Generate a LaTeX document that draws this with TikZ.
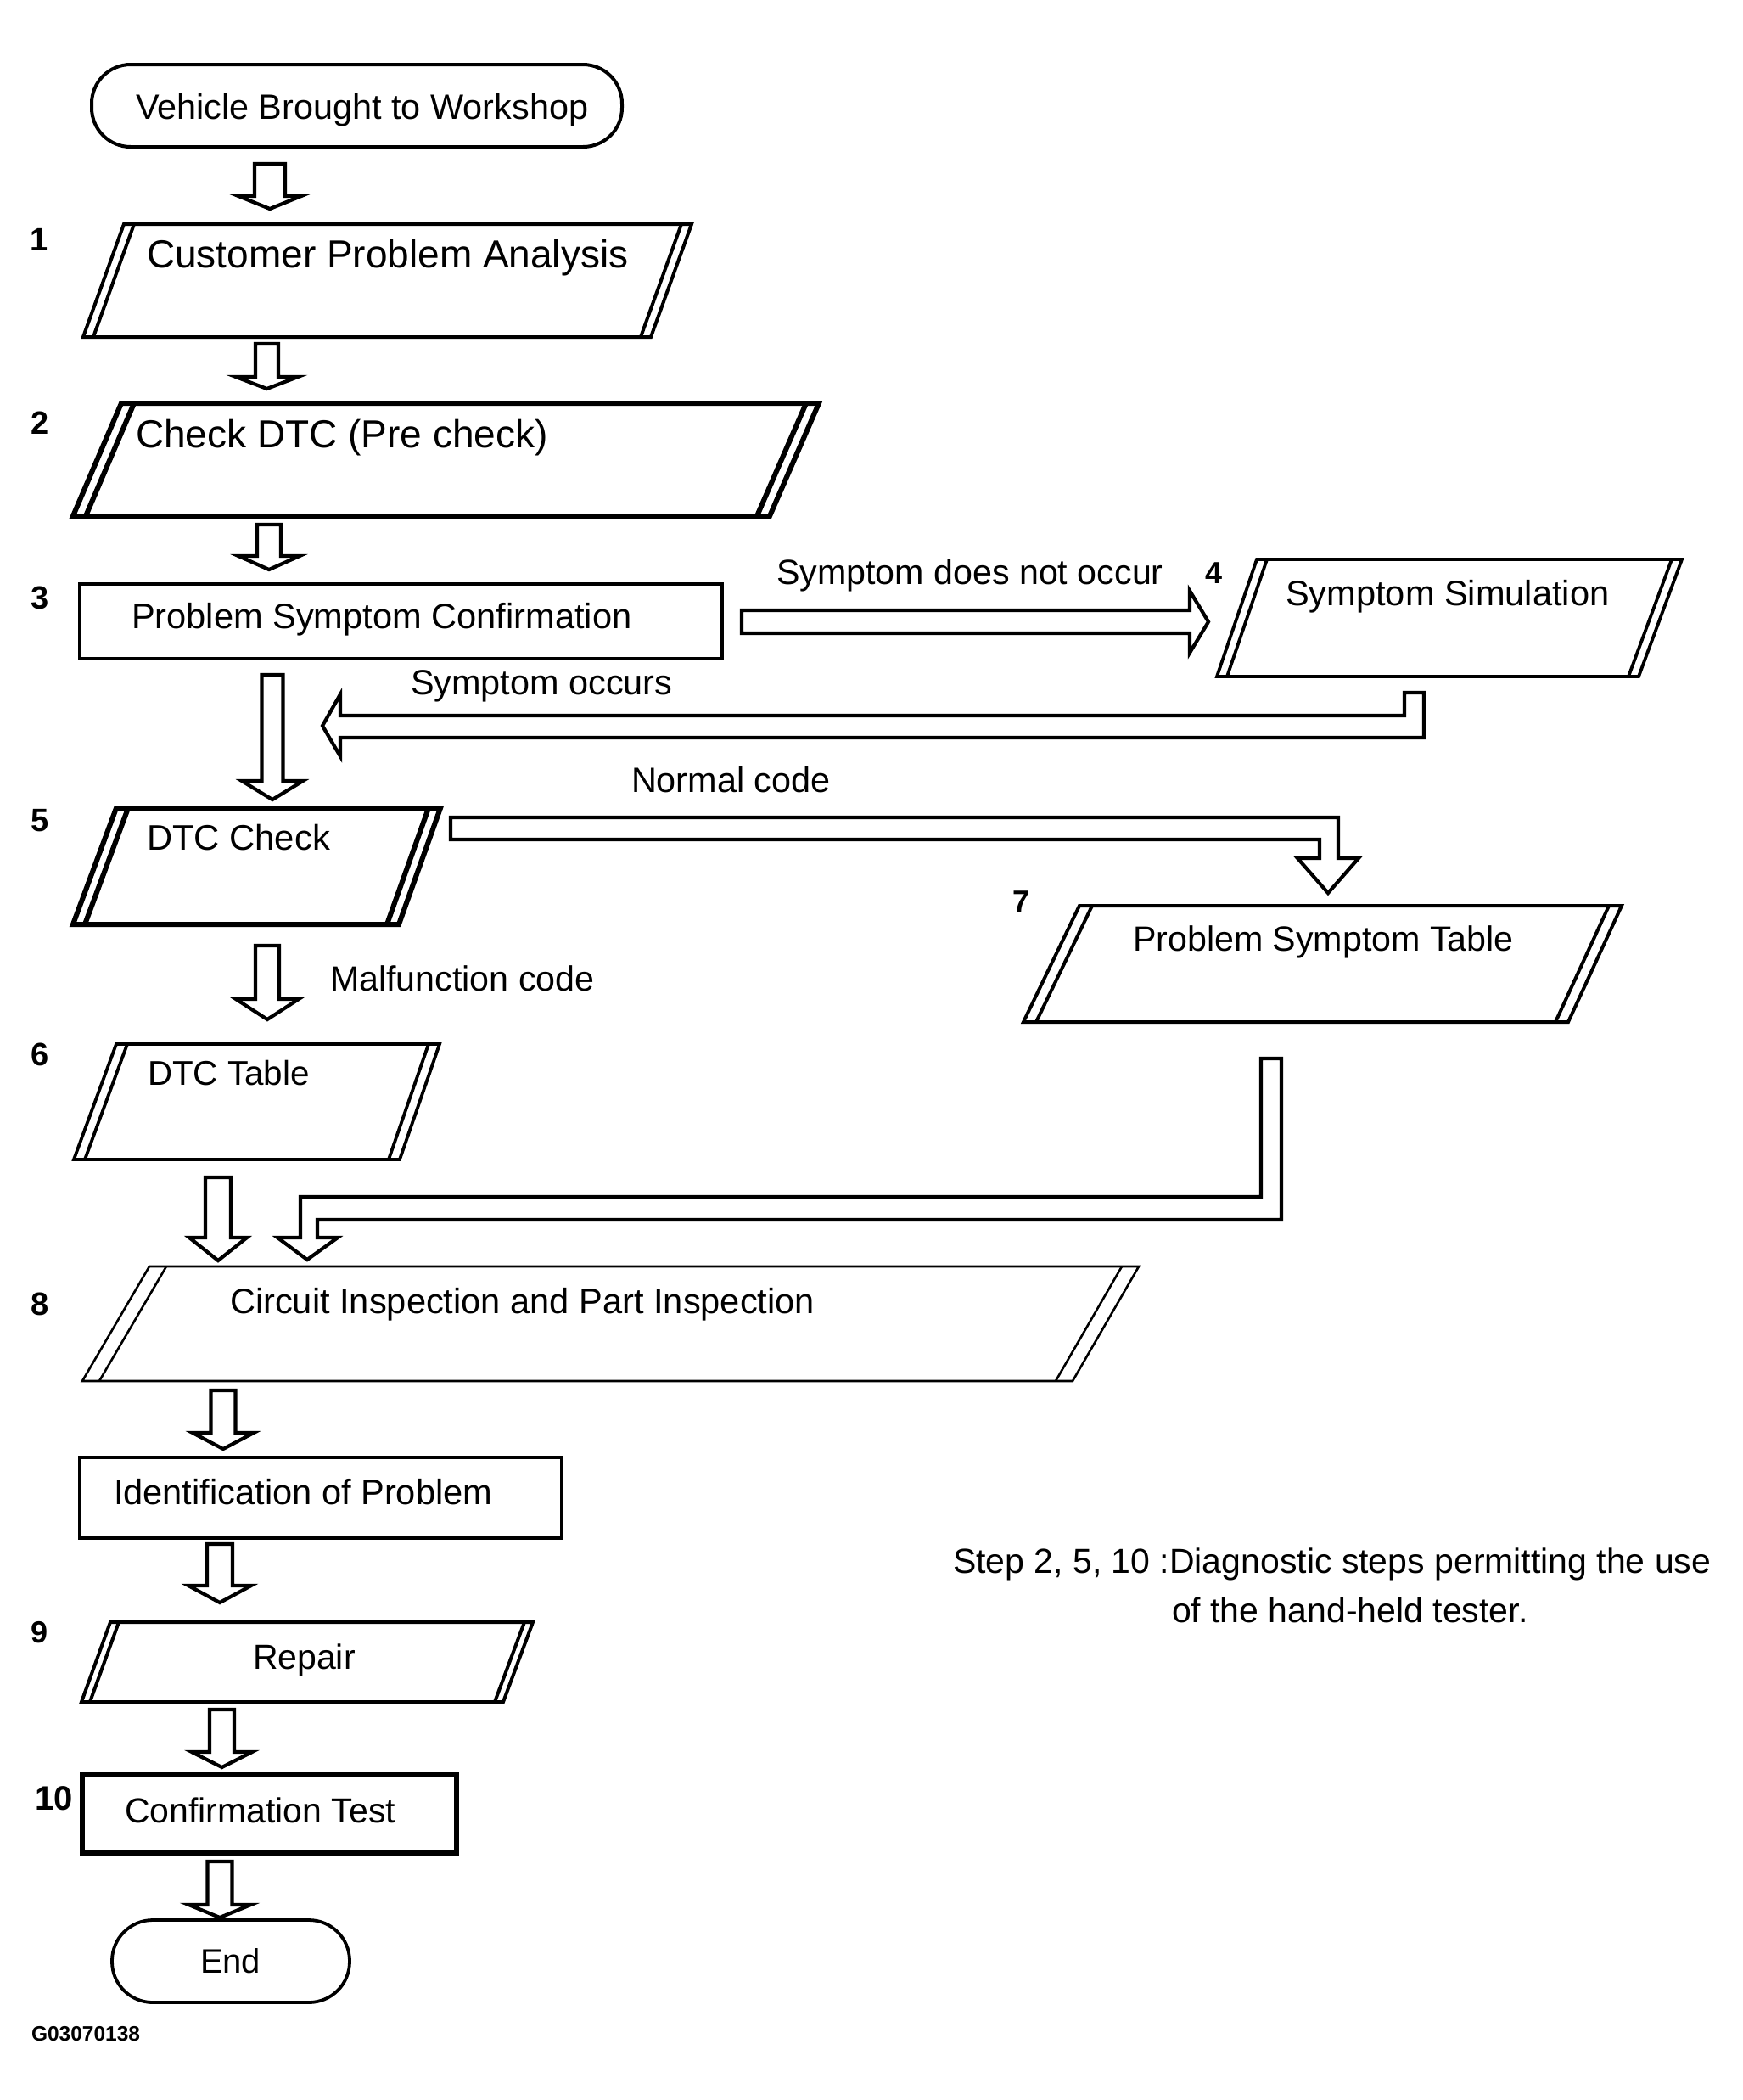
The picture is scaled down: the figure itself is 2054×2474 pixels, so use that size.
\documentclass[tikz,border=0pt]{standalone}
\usepackage{fontspec}
\setmainfont{Liberation Sans}
\usepackage{graphicx}
\newcommand\tx[3]{\scalebox{#2}[1]{\fontsize{#1pt}{#1pt}\selectfont #3}}
\newcommand\dg[2]{{\fontsize{#1pt}{#1pt}\selectfont\bfseries #2}}
% parallelogram with double slanted sides: lw, TL, TR, BL, BR, top, bottom, offset
\newcommand\para[8]{%
  \draw[line width=#1] (#2,#6) -- (#3,#6) -- (#5,#7) -- (#4,#7) -- cycle;
  \draw[line width=#1] (#2+#8,#6) -- (#4+#8,#7);
  \draw[line width=#1] (#3-#8,#6) -- (#5-#8,#7);}
% hollow down arrow: cx, shaft half width, head half width, y top, y head base, y tip
\newcommand\hdown[6]{%
  \draw[arr] (#1-#2,#4) -- (#1+#2,#4) -- (#1+#2,#5) -- (#1+#3,#5) -- (#1,#6)
    -- (#1-#3,#5) -- (#1-#2,#5) -- cycle;}
\begin{document}
\begin{tikzpicture}[x=0.25pt,y=-0.25pt,line join=miter,
  t/.style={inner sep=0pt,outer sep=0pt,anchor=base west},
  num/.style={inner sep=0pt,outer sep=0pt,anchor=base},
  arr/.style={line width=1.05pt}]
\useasboundingbox (0,0) rectangle (2054,2474);

% ---- shapes ----
\draw[line width=1pt,rounded corners=11.5pt] (108,76) rectangle (733,173);
\para{1pt}{146}{815}{98}{767}{264}{397}{12}
\para{1.5pt}{143}{965}{86}{907}{475}{608}{15}
\draw[line width=1pt] (94,688) rectangle (851,776);
\para{0.95pt}{1481}{1982}{1434}{1931}{659}{797}{12}
\para{1.5pt}{137}{519}{86}{470}{952}{1089}{14}
\para{0.95pt}{137}{518}{87}{471}{1230}{1366}{13}
\para{1pt}{1272}{1911}{1206}{1848}{1067}{1204}{15}
\para{0.65pt}{176}{1342}{97}{1264}{1492}{1627}{20}
\draw[line width=1pt] (94,1717) rectangle (662,1812);
\para{1pt}{130}{628}{96}{593}{1911}{2005}{10}
\draw[line width=1.5pt] (97,2090) rectangle (538,2183);
\draw[line width=0.95pt,rounded corners=12pt] (132,2262) rectangle (412,2359);

% ---- hollow down arrows ----
\hdown{318}{18}{37}{193}{231}{246}
\hdown{314.5}{13.5}{36.5}{405}{444}{458}
\hdown{317}{14}{36}{618}{655}{671}
\hdown{321}{12.5}{36}{795}{920}{942}
\hdown{315}{14}{37}{1114}{1177}{1201}
\hdown{257}{15}{34}{1387}{1458}{1485}
\hdown{263}{14.5}{36}{1638}{1688}{1707}
\hdown{259}{15}{37}{1819}{1868}{1888}
\hdown{261.5}{14.5}{35.5}{2014}{2064}{2082}
\hdown{259}{14.5}{36.5}{2193}{2244}{2259}

% ---- other hollow arrows ----
% Symptom does not occur
\draw[arr] (874,719) -- (1402,719) -- (1402,696) -- (1424,732.5) -- (1402,769)
  -- (1402,746) -- (874,746) -- cycle;
% Symptom occurs (from 4 back to 5)
\draw[arr] (1655,816) -- (1678,816) -- (1678,869) -- (401,869) -- (401,891)
  -- (380,855) -- (401,818) -- (401,843) -- (1655,843) -- cycle;
% Normal code (5 to 7)
\draw[arr] (531,963) -- (1577,963) -- (1577,1011) -- (1601,1011) -- (1565,1052)
  -- (1529,1011) -- (1555,1011) -- (1555,989) -- (531,989) -- cycle;
% 7 to 8
\draw[arr] (1486,1247) -- (1510,1247) -- (1510,1437) -- (374,1437) -- (374,1458)
  -- (398,1458) -- (362,1484) -- (327,1458) -- (354,1458) -- (354,1410)
  -- (1486,1410) -- cycle;

% ---- texts ----
\node[t] (tStart) at (160,140) {\tx{10.35}{1}{Vehicle Brought to Workshop}};
\node[t] (tCPA) at (173,315) {\tx{11.5}{1}{Customer Problem Analysis}};
\node[t] (tPre) at (160,527) {\tx{11.5}{1}{Check DTC (Pre check)}};
\node[t] (tPSC) at (155,740) {\tx{10.4}{1}{Problem Symptom Confirmation}};
\node[t] (tSDNO) at (915,688) {\tx{10.3}{1}{Symptom does not occur}};
\node[t] (tSS) at (1515,713) {\tx{10.4}{1}{Symptom Simulation}};
\node[t] (tSO) at (484,818) {\tx{10.35}{1}{Symptom occurs}};
\node[t] (tNC) at (744,933) {\tx{10.35}{1}{Normal code}};
\node[t] (tDC) at (173,1001) {\tx{10.45}{1}{DTC Check}};
\node[t] (tPST) at (1335,1120) {\tx{10.3}{1}{Problem Symptom Table}};
\node[t] (tMC) at (389,1167) {\tx{10.3}{1}{Malfunction code}};
\node[t] (tDT) at (174,1278) {\tx{10.1}{1}{DTC Table}};
\node[t] (tCIP) at (271,1547) {\tx{10.4}{1}{Circuit Inspection and Part Inspection}};
\node[t] (tID) at (134,1772) {\tx{10.4}{1}{Identification of Problem}};
\node[t] (tRep) at (298,1966) {\tx{10.25}{1}{Repair}};
\node[t] (tCT) at (147,2147) {\tx{10.25}{1}{Confirmation Test}};
\node[t] (tEnd) at (236,2324) {\tx{10}{1}{End}};
\node[t] (tN1) at (1123,1853) {\tx{10.25}{1}{Step 2, 5, 10 :Diagnostic steps permitting the use}};
\node[t] (tN2) at (1381,1911) {\tx{10.25}{1}{of the hand-held tester.}};
\node[t] (tG) at (37,2404) {\dg{6.125}{G03070138}};

% ---- step numbers ----
\node[num] (n1) at (46,295) {\dg{9.5}{1}};
\node[num] (n2) at (47,511) {\dg{9.5}{2}};
\node[num] (n3) at (47,717) {\dg{9.5}{3}};
\node[num] (n4) at (1430,687) {\dg{9}{4}};
\node[num] (n5) at (47,979) {\dg{9.5}{5}};
\node[num] (n6) at (47,1255) {\dg{9.5}{6}};
\node[num] (n7) at (1203,1074) {\dg{9}{7}};
\node[num] (n8) at (47,1549) {\dg{9.5}{8}};
\node[num] (n9) at (47,1935) {\dg{9}{9}};
\node[num] (n10) at (63.5,2132) {\dg{10}{10}};
\end{tikzpicture}
\end{document}
